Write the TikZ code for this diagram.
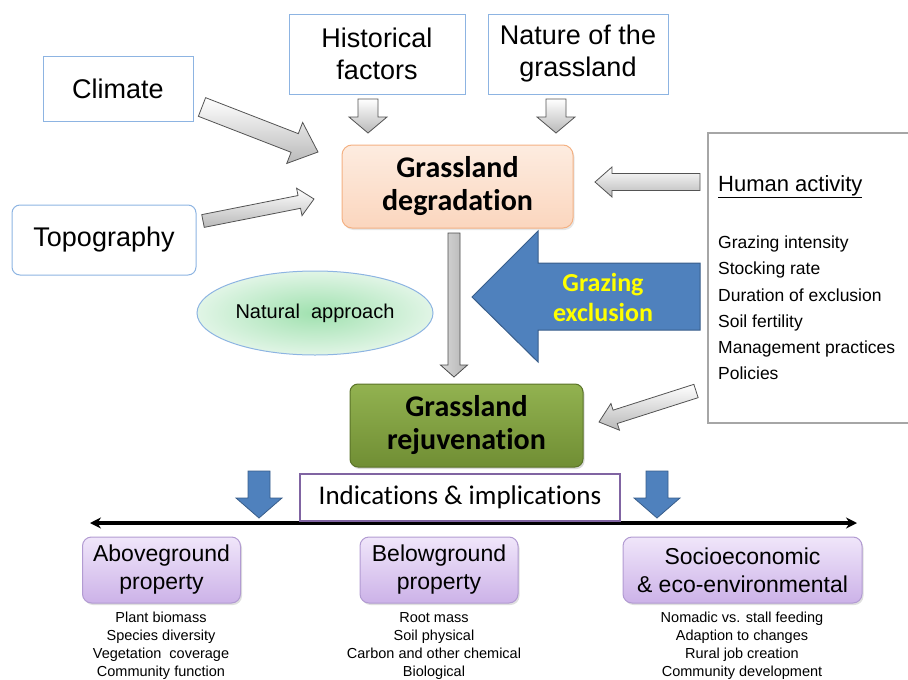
\documentclass[tikz,border=0pt]{standalone}
\usepackage{fontspec}
\setmainfont{Liberation Sans}
\newfontfamily\calib[Ligatures={NoCommon}]{Carlito}
\usetikzlibrary{calc,shapes.geometric,shadows,arrows.meta}
\definecolor{boxblue}{RGB}{141,180,226}
\definecolor{peachtop}{RGB}{253,236,224}
\definecolor{peachbot}{RGB}{251,214,190}
\definecolor{peachline}{RGB}{244,177,131}
\definecolor{olivetop}{RGB}{146,178,80}
\definecolor{olivebot}{RGB}{112,142,52}
\definecolor{oliveline}{RGB}{90,115,40}
\definecolor{arrblue}{RGB}{79,129,189}
\definecolor{arrblueline}{RGB}{56,93,138}
\definecolor{lavtop}{RGB}{240,230,250}
\definecolor{lavbot}{RGB}{204,178,232}
\definecolor{lavline}{RGB}{178,155,210}
\definecolor{purpline}{RGB}{128,100,162}
\definecolor{greenin}{RGB}{160,225,175}
\definecolor{greenout}{RGB}{225,245,230}
\definecolor{gex}{RGB}{255,255,0}
\newcommand\blockarr[6][]{%
  \coordinate (ba-h) at ($(#3)!#6!(#2)$);
  \path[#1] ($(#2)!#4!90:(#3)$) -- ($(ba-h)!#4!90:(#3)$) -- ($(ba-h)!#5!90:(#3)$)
    -- (#3) -- ($(ba-h)!#5!-90:(#3)$) -- ($(ba-h)!#4!-90:(#3)$) -- ($(#2)!#4!-90:(#3)$) -- cycle;
}
\begin{document}
\begin{tikzpicture}[x=1pt,y=-1pt,
  topbox/.style={draw=boxblue, line width=1pt, fill=white, inner sep=0pt, align=center,
     font=\fontsize{27}{32}\selectfont},
  garrow/.style={draw=gray!65!black, line width=0.8pt, top color=white, bottom color=gray!55, line join=miter},
  barrow/.style={draw=arrblueline, line width=0.8pt, fill=arrblue, line join=miter},
  lavbox/.style={draw=lavline, line width=1pt, rounded corners=9pt, top color=lavtop, bottom color=lavbot,
     minimum width=158pt, minimum height=66pt, inner sep=0pt, align=center,
     font=\fontsize{23}{28}\selectfont,
     drop shadow={shadow xshift=1.5pt, shadow yshift=-2pt, opacity=.25}},
  listtxt/.style={align=center, inner sep=0pt, font=\fontsize{14.5}{18}\selectfont}
]
\useasboundingbox (0,0) rectangle (908,680);

% top factor boxes
\node[topbox, minimum width=150pt, minimum height=65pt] (clim) at (118,88.5) {Climate};
\node[topbox, minimum width=176pt, minimum height=80pt] (hist) at (377,54) {Historical\\factors};
\node[topbox, minimum width=180pt, minimum height=80pt] (nat) at (578,54) {Nature of the\\grassland};
\node[topbox, rounded corners=8pt, minimum width=184pt, minimum height=70pt] (topo) at (104,240) {Topography};

% degradation
\node[draw=peachline, line width=1pt, rounded corners=10pt, top color=peachtop, bottom color=peachbot,
  minimum width=231pt, minimum height=83pt, inner sep=0pt, align=center,
  font=\calib\bfseries\fontsize{30}{33}\selectfont,
  drop shadow={shadow xshift=1.5pt, shadow yshift=-2pt, opacity=.2}]
  (deg) at (457.5,186.5) {Grassland\\degradation};

% rejuvenation
\node[draw=oliveline, line width=1pt, rounded corners=8pt, top color=olivetop, bottom color=olivebot,
  minimum width=233pt, minimum height=83pt, inner sep=0pt, align=center,
  font=\calib\bfseries\fontsize{30}{33}\selectfont,
  drop shadow={shadow xshift=1.5pt, shadow yshift=-2pt, opacity=.3}]
  (rej) at (466.5,425.5) {Grassland\\rejuvenation};

% natural approach
\node[ellipse, draw=boxblue, line width=1pt, inner color=greenin, outer color=greenout,
  minimum width=236pt, minimum height=84pt, inner sep=0pt, font=\fontsize{20}{24}\selectfont]
  (natap) at (315,313) {Natural\ \ approach};

% human activity box
\coordinate (hab-tr) at (910,133);
\coordinate (hab-tl) at (708,133);
\coordinate (hab-bl) at (708,423);
\coordinate (hab-br) at (910,423);
\draw[gray!70, line width=2pt] (hab-tr) -- (hab-tl) -- (hab-bl) -- (hab-br);
\node[anchor=west, inner sep=0pt, font=\fontsize{22}{26}\selectfont] (hum) at (718,187) {\underline{Human activity}};
\node[anchor=west, align=left, inner sep=0pt, font=\fontsize{17.5}{26.2}\selectfont] (humlist) at (718,308)
  {Grazing intensity\\Stocking rate\\Duration of exclusion\\Soil fertility\\Management practices\\Policies};

% gray block arrows
\coordinate (ca) at (202,107); \coordinate (cb) at (318,152);
\blockarr[garrow]{ca}{cb}{10pt}{22pt}{25pt}
\coordinate (ta) at (203,221); \coordinate (tb) at (314,199);
\blockarr[garrow]{ta}{tb}{6.5pt}{14pt}{15pt}
\coordinate (ha) at (368,99); \coordinate (hb) at (368,133);
\blockarr[garrow]{ha}{hb}{10pt}{19pt}{16pt}
\coordinate (na) at (556,99); \coordinate (nb) at (556,133);
\blockarr[garrow]{na}{nb}{10pt}{19pt}{16pt}
\coordinate (ua) at (700,182); \coordinate (ub) at (595,182);
\blockarr[garrow]{ua}{ub}{8.5pt}{15pt}{17pt}
\coordinate (ra) at (696,391); \coordinate (rb) at (599,422);
\blockarr[garrow]{ra}{rb}{7pt}{14pt}{17pt}
\coordinate (va) at (454,233); \coordinate (vb) at (454,377);
\blockarr[draw=gray!60!black, line width=0.8pt, left color=gray!30, right color=gray!60]{va}{vb}{6pt}{13.5pt}{12pt}

% grazing exclusion arrow
\coordinate (ge-tip) at (472,297);
\draw[draw=arrblueline, line width=1pt, fill=arrblue] (ge-tip) -- (538,231) -- (538,263) -- (700,263)
  -- (700,330) -- (538,330) -- (538,362) -- cycle;
\node[align=center, inner sep=0pt, text=gex, font=\calib\bfseries\fontsize{26}{30}\selectfont]
  (gex) at (603,297) {Grazing\\exclusion};

% indications
\coordinate (hl) at (90,523); \coordinate (hr) at (857,523);
\draw[{Stealth[length=11pt,width=11pt]}-{Stealth[length=11pt,width=11pt]}, line width=3.5pt] (hl) -- (hr);
\node[draw=purpline, line width=1.5pt, fill=white, minimum width=320pt, minimum height=47pt, inner sep=0pt,
  font=\calib\fontsize{27}{30}\selectfont] (ind) at (460,497.5) {Indications \& implications};
\coordinate (bla) at (259,471); \coordinate (blb) at (259,518);
\blockarr[barrow]{bla}{blb}{11pt}{23pt}{20pt}
\coordinate (bra) at (657,471); \coordinate (brb) at (657,518);
\blockarr[barrow]{bra}{brb}{11pt}{23pt}{20pt}

% bottom boxes
\node[lavbox] (above) at (161.5,570) {Aboveground\\property};
\node[lavbox] (below) at (439,570) {Belowground\\property};
\node[lavbox, minimum width=239pt] (socio) at (742.5,570) {Socioeconomic\\\& eco-environmental};

\node[listtxt] (abl) at (161,646) {Plant biomass\\Species diversity\\Vegetation\ \ coverage\\Community function};
\node[listtxt] (bel) at (434,646) {Root mass\\Soil physical\\Carbon and other chemical\\Biological};
\node[listtxt] (sol) at (742,646) {Nomadic vs. stall feeding\\Adaption to changes\\Rural job creation\\Community development};
\end{tikzpicture}
\end{document}
